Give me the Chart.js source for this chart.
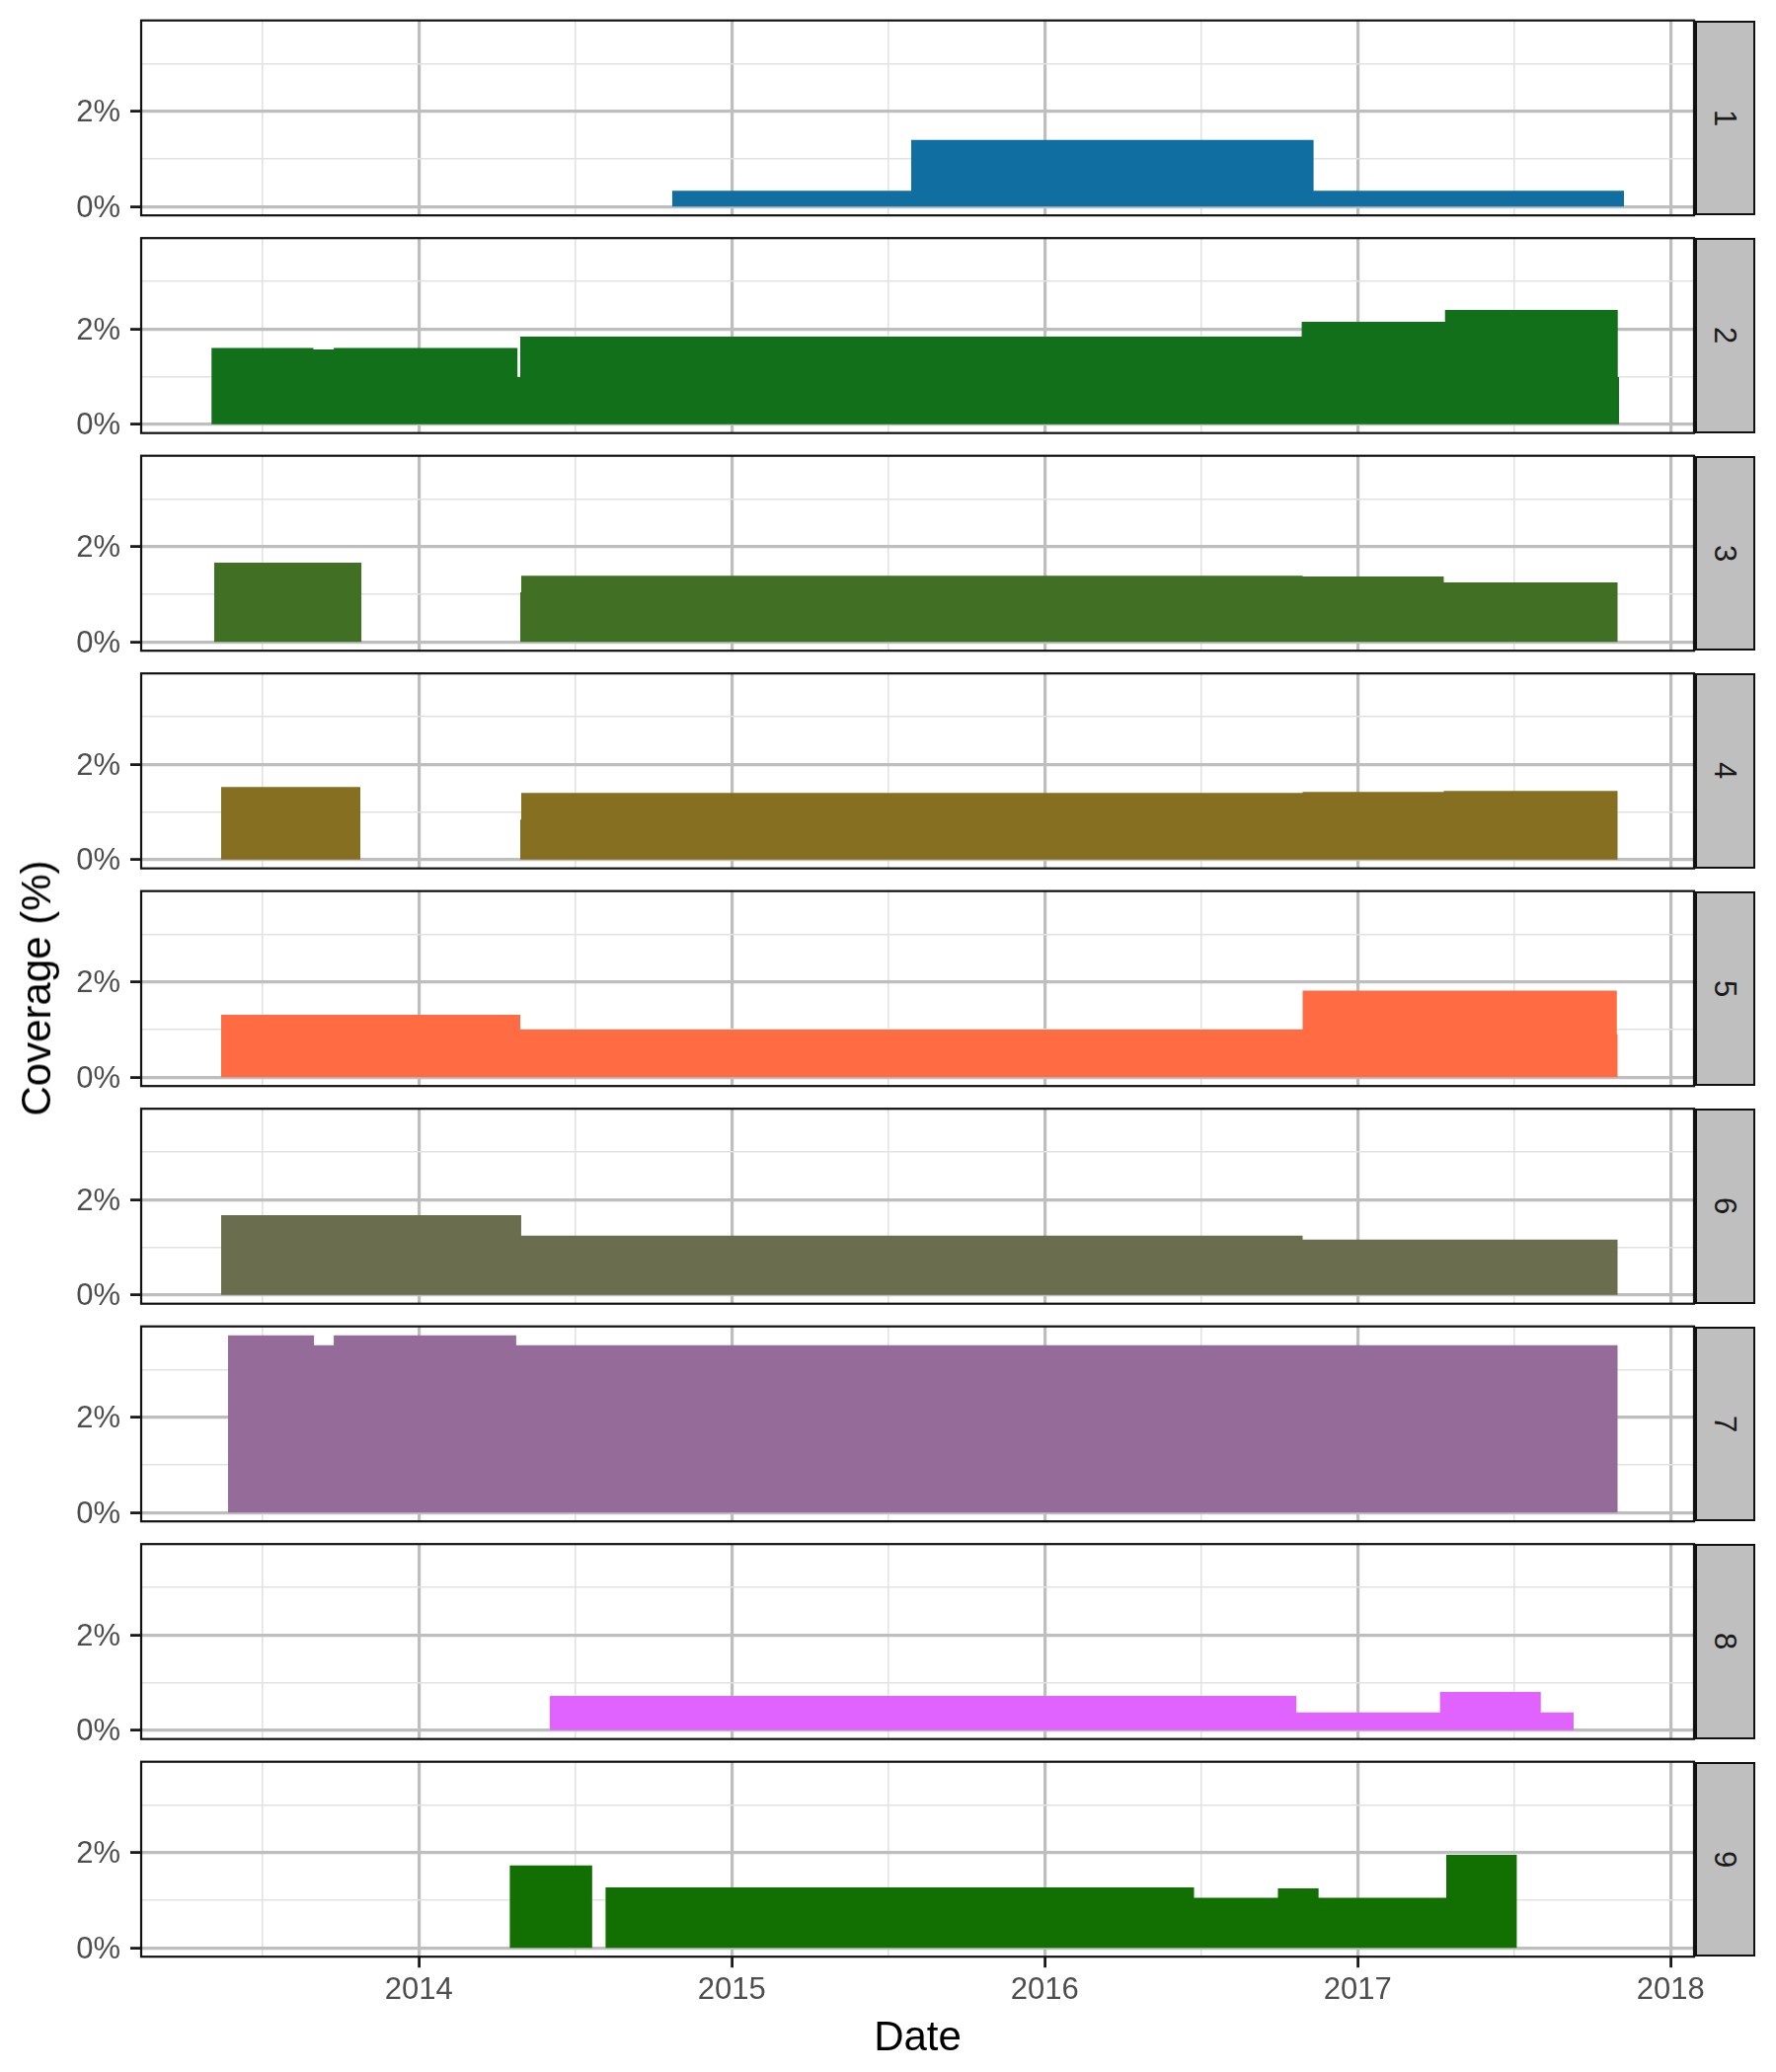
<!DOCTYPE html>
<html>
<head>
<meta charset="utf-8">
<script src="https://cdn.jsdelivr.net/npm/chart.js@4.4.1/dist/chart.umd.min.js"></script>
<style>
html,body{margin:0;padding:0;background:#fff;}
#root{position:relative;width:1799px;height:2099px;overflow:hidden;font-family:"Liberation Sans",Arial,Helvetica,sans-serif;}
#root canvas{position:absolute;left:0;}
.strip{position:absolute;box-sizing:border-box;background:#BFBFBF;border:2px solid #111;display:flex;align-items:center;justify-content:center;}
.strip span{display:block;transform:rotate(90deg);font-size:31px;line-height:1;color:#1A1A1A;}
.title{position:absolute;color:#000;font-size:42px;line-height:1;white-space:nowrap;transform-origin:center center;}
</style>
</head>
<body>
<div id="root"></div>
<script>
// ---------------- DATA ----------------
// Facet labels
const facetLabels = ['1','2','3','4','5','6','7','8','9'];
// Fill colours per facet
const facetColors = ['#106EA0','#13701A','#417025','#866F21','#FF6B43','#6A6E4F','#956B9A','#E063FF','#127003'];

// Change dates (decimal years) and coverage (%) holding from each date to the next (null = no data)
const p1Dates  = [2014.809, 2015.573, 2016.859, 2017.851];
const p1Values = [0.33, 1.40, 0.33];

const p2Dates  = [2013.337, 2013.663, 2013.728, 2014.315, 2014.324, 2016.821, 2017.279, 2017.831, 2017.835];
const p2Values = [1.60, 1.57, 1.60, 0.99, 1.84, 2.15, 2.40, 0.99];

const p3Dates  = [2013.346, 2013.817, 2014.324, 2014.327, 2016.824, 2017.275, 2017.831];
const p3Values = [1.66, null, 1.04, 1.39, 1.37, 1.25];

const p4Dates  = [2013.368, 2013.813, 2014.324, 2014.327, 2016.824, 2017.275, 2017.831];
const p4Values = [1.52, null, 0.84, 1.40, 1.42, 1.44];

const p5Dates  = [2013.368, 2014.324, 2016.824, 2017.828, 2017.831];
const p5Values = [1.31, 1.00, 1.82, 0.90];

const p6Dates  = [2013.368, 2014.327, 2016.824, 2017.831];
const p6Values = [1.67, 1.24, 1.16];

const p7Dates  = [2013.390, 2013.665, 2013.728, 2014.311, 2017.831];
const p7Values = [3.72, 3.51, 3.72, 3.51];

const p8Dates  = [2014.418, 2016.804, 2017.263, 2017.585, 2017.690];
const p8Values = [0.72, 0.37, 0.80, 0.37];

const p9Dates  = [2014.290, 2014.554, 2014.596, 2016.477, 2016.745, 2016.875, 2017.283, 2017.509];
const p9Values = [1.73, null, 1.27, 1.05, 1.25, 1.05, 1.95];

// Tick positions / labels
const xMajorTicks = [2014, 2015, 2016, 2017, 2018];
const xMinorTicks = [2013.5, 2014.5, 2015.5, 2016.5, 2017.5];
const yMajorTicks = [0, 2];
const yMinorTicks = [1, 3];
const xTitle = 'Date';
const yTitle = 'Coverage (%)';

// ---------------- LAYOUT ----------------
const W = 1799;
const PANEL_LEFT = 143, PANEL_RIGHT = 1716;
const PANEL_TOP0 = 20.7, PANEL_STEP = 220.5, PANEL_H = 197.5;
const X_MIN = 2013.1126, X_MAX = 2018.0748;
const Y_MIN = -0.186, Y_MAX = 3.906;
const X_AXIS_H = 70;

const allDates  = [p1Dates,p2Dates,p3Dates,p4Dates,p5Dates,p6Dates,p7Dates,p8Dates,p9Dates];
const allValues = [p1Values,p2Values,p3Values,p4Values,p5Values,p6Values,p7Values,p8Values,p9Values];

function buildPoints(dates, values){
  const pts = [];
  for (let i = 0; i < values.length; i++){
    const v = values[i];
    if (v === null){ pts.push({x:(dates[i]+dates[i+1])/2, y:null}); continue; }
    pts.push({x:dates[i], y:v}, {x:dates[i+1], y:v});
  }
  return pts;
}

const MAJOR_GRID = '#BEBEBE', MINOR_GRID = '#E2E2E2';
const TICK_FONT = {family:'"Liberation Sans", Arial, sans-serif', size:31};

const borderPlugin = {
  id:'panelBorder',
  afterDraw(chart){
    const {ctx, chartArea:a} = chart;
    ctx.save();
    ctx.strokeStyle = '#111';
    ctx.lineWidth = 2.2;
    ctx.strokeRect(a.left, a.top, a.right-a.left, a.bottom-a.top);
    ctx.restore();
  }
};

const root = document.getElementById('root');
const isMajorX = v => xMajorTicks.includes(v);
const isMajorY = v => yMajorTicks.includes(v);

facetLabels.forEach((lab, k) => {
  const top = PANEL_TOP0 + k*PANEL_STEP;
  const last = (k === facetLabels.length-1);
  const canvasTop = Math.floor(top) - 5;
  const padTop = top - canvasTop;
  const canvasH = last ? (2099 - canvasTop) : 208;
  const xh = last ? X_AXIS_H : 0;
  const padBottom = canvasH - padTop - PANEL_H - xh;

  const cv = document.createElement('canvas');
  cv.width = W; cv.height = canvasH;
  cv.style.top = canvasTop + 'px';
  cv.style.width = W + 'px'; cv.style.height = canvasH + 'px';
  root.appendChild(cv);

  new Chart(cv.getContext('2d'), {
    type:'line',
    data:{datasets:[{
      data: buildPoints(allDates[k], allValues[k]),
      backgroundColor: facetColors[k],
      borderColor: 'rgba(0,0,0,0)',
      borderWidth: 0,
      pointRadius: 0,
      fill: 'origin',
      tension: 0,
      spanGaps: false
    }]},
    options:{
      responsive:false,
      animation:false,
      events:[],
      layout:{padding:{left:0, right:W-PANEL_RIGHT, top:padTop, bottom:padBottom}},
      plugins:{legend:{display:false}, tooltip:{enabled:false}},
      scales:{
        x:{
          type:'linear', min:X_MIN, max:X_MAX,
          afterBuildTicks: s => { s.ticks = xMinorTicks.concat(xMajorTicks).sort((a,b)=>a-b).map(v=>({value:v})); },
          afterFit: s => { s.height = xh; s.paddingLeft = 0; s.paddingRight = 0; },
          border:{display:false},
          grid:{
            drawOnChartArea:true,
            drawTicks:last,
            tickLength:11,
            tickWidth:2.8,
            tickColor: c => (c.tick && isMajorX(c.tick.value)) ? '#1A1A1A' : 'rgba(0,0,0,0)',
            color: c => (c.tick && isMajorX(c.tick.value)) ? MAJOR_GRID : MINOR_GRID,
            lineWidth: c => (c.tick && isMajorX(c.tick.value)) ? 3.2 : 1.6
          },
          ticks:{
            display:last, autoSkip:false, maxRotation:0, minRotation:0,
            padding:5, color:'#4D4D4D', font:TICK_FONT,
            callback: v => isMajorX(v) ? String(v) : ''
          }
        },
        y:{
          type:'linear', min:Y_MIN, max:Y_MAX,
          afterBuildTicks: s => { s.ticks = yMajorTicks.concat(yMinorTicks).sort((a,b)=>a-b).map(v=>({value:v})); },
          afterFit: s => { s.width = PANEL_LEFT; s.paddingTop = 0; s.paddingBottom = 0; },
          border:{display:false},
          grid:{
            drawOnChartArea:true,
            drawTicks:true,
            tickLength:11,
            tickWidth:2.8,
            tickColor: c => (c.tick && isMajorY(c.tick.value)) ? '#1A1A1A' : 'rgba(0,0,0,0)',
            color: c => (c.tick && isMajorY(c.tick.value)) ? MAJOR_GRID : MINOR_GRID,
            lineWidth: c => (c.tick && isMajorY(c.tick.value)) ? 3.2 : 1.6
          },
          ticks:{
            autoSkip:false, padding:10, labelOffset:2, color:'#4D4D4D', font:TICK_FONT,
            callback: v => isMajorY(v) ? v + '%' : ''
          }
        }
      }
    },
    plugins:[borderPlugin]
  });

  const strip = document.createElement('div');
  strip.className = 'strip';
  strip.style.left = (PANEL_RIGHT + 1) + 'px';
  strip.style.top = top + 'px';
  strip.style.width = '61px';
  strip.style.height = PANEL_H + 'px';
  const sp = document.createElement('span');
  sp.textContent = lab;
  strip.appendChild(sp);
  root.appendChild(strip);
});

const xt = document.createElement('div');
xt.className = 'title';
xt.textContent = xTitle;
xt.style.left = ((PANEL_LEFT+PANEL_RIGHT)/2) + 'px';
xt.style.top = '2063px';
xt.style.transform = 'translate(-50%,-50%)';
root.appendChild(xt);

const yt = document.createElement('div');
yt.className = 'title';
yt.textContent = yTitle;
yt.style.left = '37px';
yt.style.top = ((PANEL_TOP0 + PANEL_TOP0 + 8*PANEL_STEP + PANEL_H)/2) + 'px';
yt.style.transform = 'translate(-50%,-50%) rotate(-90deg)';
root.appendChild(yt);
</script>
</body>
</html>
